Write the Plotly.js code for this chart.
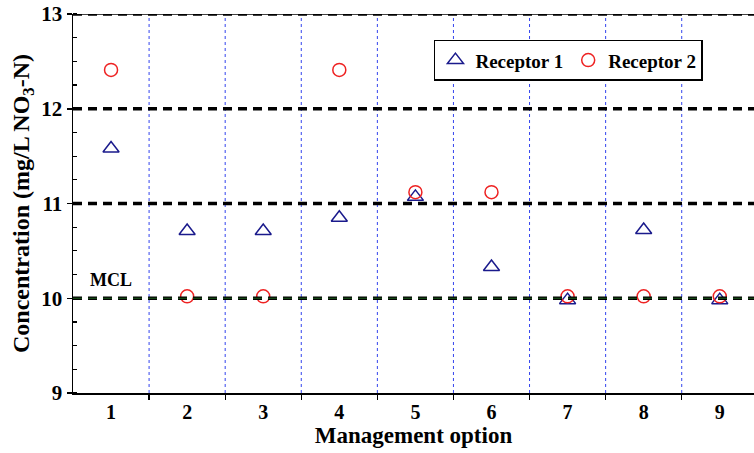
<!DOCTYPE html>
<html><head><meta charset="utf-8">
<script src="https://cdn.plot.ly/plotly-3.0.1.min.js"></script>
<style>html,body{margin:0;padding:0;background:#fff}#chart{width:754px;height:453px}</style>
</head><body><div id="chart"></div>
<script>
const options = [1,2,3,4,5,6,7,8,9];
const receptor1 = [11.58,10.71,10.71,10.85,11.07,10.33,9.98,10.72,9.98];
const receptor2 = [12.41,10.02,10.02,12.41,11.12,11.12,10.02,10.02,10.02];
const hLevels = [10,11,12,13];
const dividers = [1.5,2.5,3.5,4.5,5.5,6.5,7.5,8.5];
const mclValue = 10;

const FONT = 'Liberation Serif, Times New Roman, serif';
const shapes = [];
dividers.forEach(d => shapes.push({type:'line', xref:'x', yref:'paper', x0:d, x1:d, y0:0, y1:1,
  line:{color:'#3344ee', width:1, dash:'dot'}, layer:'below'}));
shapes.push({type:'line', xref:'paper', yref:'y', x0:0, x1:1, y0:13, y1:13, line:{color:'#000', width:1.5}});
hLevels.forEach(v => shapes.push({type:'line', xref:'paper', yref:'y', x0:0, x1:1, y0:v, y1:v,
  line:{color:'#000', width:3.5, dash:'9px,6px'}}));
shapes.push({type:'line', xref:'paper', yref:'y', x0:0, x1:1, y0:mclValue, y1:mclValue,
  line:{color:'#1a5c1a', width:1.2, dash:'9px,6px'}});

const data = [
  {x:options, y:receptor1, type:'scatter', mode:'markers', name:'Receptor 1',
   marker:{symbol:'triangle-up-open', size:14, color:'#1a1a8c', line:{width:1.5, color:'#1a1a8c'}}},
  {x:options, y:receptor2, type:'scatter', mode:'markers', name:'Receptor 2',
   marker:{symbol:'circle-open', size:13, color:'#ee2222', line:{width:1.5, color:'#ee2222'}}}
];

const layout = {
  width:754, height:453,
  margin:{l:73, r:0, t:14, b:60},
  paper_bgcolor:'#fff', plot_bgcolor:'#fff',
  font:{family:FONT, color:'#000', size:19},
  showlegend:true,
  legend:{orientation:'h', x:0.53, y:0.932, xanchor:'left', yanchor:'top',
    bordercolor:'#000', borderwidth:1.5, bgcolor:'#fff',
    font:{family:FONT, size:19, weight:'bold'}, itemwidth:30, tracegroupgap:0},
  xaxis:{range:[0.5,9.45], tickmode:'array', tickvals:options, ticktext:options.map(String),
    ticks:'', showgrid:false, zeroline:false, showline:true, linecolor:'#000', linewidth:1.5,
    tickfont:{family:FONT, size:20, weight:'bold'},
    minor:{tickmode:'array', tickvals:dividers, ticks:'outside', ticklen:5, tickcolor:'#000', tickwidth:1.2, showgrid:false},
    title:{text:'Management option', font:{family:FONT, size:23, weight:'bold'}, standoff:5}},
  yaxis:{range:[9,13], tickmode:'array', tickvals:[9,10,11,12,13], ticks:'outside', ticklen:5, tickwidth:1.5, tickcolor:'#000',
    showgrid:false, zeroline:false, showline:true, linecolor:'#000', linewidth:1.5,
    tickfont:{family:FONT, size:21, weight:'bold'},
    minor:{dtick:0.25, ticks:'inside', ticklen:4, tickcolor:'#000', tickwidth:1.2, showgrid:false},
    title:{text:'Concentration (mg/L NO<sub>3</sub>-N)', font:{family:FONT, size:24, weight:'bold'}, standoff:5}},
  shapes:shapes,
  annotations:[{x:1, y:10.19, xref:'x', yref:'y', text:'<b>MCL</b>', showarrow:false,
    font:{family:FONT, size:18, color:'#000'}}]
};
Plotly.newPlot('chart', data, layout, {displayModeBar:false, staticPlot:true});
</script></body></html>
